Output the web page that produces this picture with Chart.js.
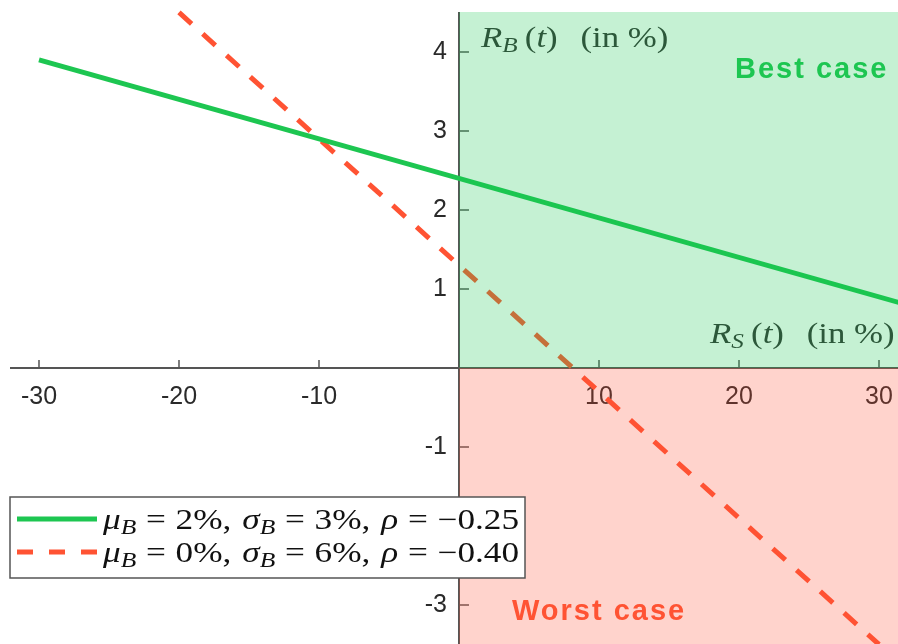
<!DOCTYPE html>
<html>
<head>
<meta charset="utf-8">
<script src="https://cdn.jsdelivr.net/npm/chart.js@4/dist/chart.umd.min.js"></script>
<style>
  html, body { margin: 0; padding: 0; background: #fff; }
  #wrap { width: 898px; height: 644px; position: relative; }
</style>
</head>
<body>
<div id="wrap"><canvas id="c"></canvas></div>
<script>
// Line endpoints: stock return R_S(t) -> bond return R_B(t), both in %
const seriesLabels = ['mu_B = 2%, sigma_B = 3%, rho = -0.25', 'mu_B = 0%, sigma_B = 6%, rho = -0.40'];
const lineAx = [-30, 32];
const lineAy = [3.90, 0.80];
const lineBx = [-20, 30];
const lineBy = [4.50, -3.50];

// Tick labels on both axes (0 is left unlabelled)
const xTickValues = [-30, -20, -10, 10, 20, 30];
const yTickValues = [-3, -2, -1, 1, 2, 3, 4];

const GREEN = '#1dc651';
const RED = '#ff5333';
const AXIS = '#555555';

function toPoints(xs, ys) { return xs.map((x, i) => ({ x: x, y: ys[i] })); }

// Draw a run of text pieces (math-like: italic symbols, subscripts),
// stretched horizontally by sx to get a wider, TeX-like set width
function drawRun(ctx, x, y, parts, color, sx) {
  ctx.save();
  ctx.translate(x, y);
  ctx.scale(sx || 1, 1);
  ctx.fillStyle = color;
  ctx.textBaseline = 'alphabetic';
  ctx.textAlign = 'left';
  let cx = 0;
  for (const p of parts) {
    if (p.gap) { cx += p.gap; continue; }
    ctx.font = (p.i ? 'italic ' : '') + p.size + 'px "Liberation Serif", "Times New Roman", serif';
    ctx.fillText(p.s, cx, p.dy || 0);
    cx += ctx.measureText(p.s).width;
  }
  ctx.restore();
  return x + cx * (sx || 1);
}

const M = 29, S = 21;
function eqParts(mu, sig, rho) {
  return [
    { s: 'μ', i: true, size: M }, { s: 'B', i: true, size: S, dy: 5 },
    { gap: 8 }, { s: '=', size: M }, { gap: 8 },
    { s: mu + '%,', size: M }, { gap: 9 },
    { s: 'σ', i: true, size: M }, { s: 'B', i: true, size: S, dy: 5 },
    { gap: 8 }, { s: '=', size: M }, { gap: 8 },
    { s: sig + '%,', size: M }, { gap: 9 },
    { s: 'ρ', i: true, size: M },
    { gap: 8 }, { s: '=', size: M }, { gap: 8 },
    { s: '−' + rho, size: M }
  ];
}
function axisTitle(sym) {
  return [
    { s: 'R', i: true, size: M }, { s: sym, i: true, size: S, dy: 5 }, { gap: 6 },
    { s: '(', size: M }, { s: 't', i: true, size: M }, { s: ')', size: M }, { gap: 19 },
    { s: '(in %)', size: M }
  ];
}

const axesPlugin = {
  id: 'centredAxes',
  beforeDatasetsDraw(chart) {
    const ctx = chart.ctx;
    const xs = chart.scales.x, ys = chart.scales.y;
    const ca = chart.chartArea;
    const ox = xs.getPixelForValue(0), oy = ys.getPixelForValue(0);
    ctx.save();
    // axis lines through the origin
    ctx.strokeStyle = AXIS;
    ctx.lineWidth = 2;
    ctx.beginPath();
    ctx.moveTo(ca.left, oy); ctx.lineTo(ca.right, oy);
    ctx.moveTo(ox, ca.top); ctx.lineTo(ox, ca.bottom);
    ctx.stroke();
    // tick marks
    ctx.lineWidth = 1.5;
    ctx.beginPath();
    for (const v of xTickValues) {
      const px = xs.getPixelForValue(v);
      ctx.moveTo(px, oy); ctx.lineTo(px, oy - 8);
    }
    for (const v of yTickValues) {
      const py = ys.getPixelForValue(v);
      ctx.moveTo(ox, py); ctx.lineTo(ox + 10, py);
    }
    ctx.stroke();
    // tick labels
    ctx.fillStyle = '#2a2a2a';
    ctx.font = '25px "Liberation Sans", Arial, sans-serif';
    ctx.textAlign = 'center';
    ctx.textBaseline = 'middle';
    for (const v of xTickValues) {
      ctx.fillText(String(v), xs.getPixelForValue(v), oy + 29);
    }
    ctx.textAlign = 'right';
    for (const v of yTickValues) {
      ctx.fillText(String(v), ox - 12, ys.getPixelForValue(v));
    }
    ctx.restore();
  },
  afterDatasetsDraw(chart) {
    const ctx = chart.ctx;
    const xs = chart.scales.x, ys = chart.scales.y;
    const ca = chart.chartArea;
    const ox = xs.getPixelForValue(0), oy = ys.getPixelForValue(0);

    // axis titles
    const labelColor = '#333333';
    drawRun(ctx, ox + 22, ca.top + 35, axisTitle('B'), labelColor, 1.2);
    drawRun(ctx, ox + 251, oy - 25, axisTitle('S'), labelColor, 1.2);

    // translucent quadrant shading on top of everything drawn so far
    ctx.save();
    ctx.fillStyle = 'rgba(25,200,80,0.25)';
    ctx.fillRect(ox, ca.top, ca.right - ox, oy - ca.top);
    ctx.fillStyle = 'rgba(255,80,50,0.25)';
    ctx.fillRect(ox, oy, ca.right - ox, ca.bottom - oy);
    ctx.restore();

    // quadrant captions
    ctx.save();
    ctx.font = 'bold 29px "Liberation Sans", Arial, sans-serif';
    try { ctx.letterSpacing = '2px'; } catch (e) {}
    ctx.textBaseline = 'alphabetic';
    ctx.textAlign = 'left';
    ctx.fillStyle = GREEN;
    ctx.fillText('Best case', 735, 78);
    ctx.fillStyle = RED;
    ctx.fillText('Worst case', 512, 620);
    ctx.restore();

    // legend box
    ctx.save();
    ctx.fillStyle = '#ffffff';
    ctx.fillRect(10, 497, 515, 81);
    ctx.strokeStyle = '#555555';
    ctx.lineWidth = 1.5;
    ctx.strokeRect(10, 497, 515, 81);
    ctx.lineWidth = 5;
    ctx.lineCap = 'butt';
    ctx.strokeStyle = GREEN;
    ctx.beginPath(); ctx.moveTo(17, 519); ctx.lineTo(97, 519); ctx.stroke();
    ctx.strokeStyle = RED;
    ctx.setLineDash([16, 16]);
    ctx.beginPath(); ctx.moveTo(17, 552); ctx.lineTo(97, 552); ctx.stroke();
    ctx.restore();
    drawRun(ctx, 103, 529, eqParts('2', '3', '0.25'), '#111111', 1.215);
    drawRun(ctx, 103, 562, eqParts('0', '6', '0.40'), '#111111', 1.215);
  }
};

new Chart(document.getElementById('c'), {
  type: 'scatter',
  data: {
    datasets: [
      {
        label: seriesLabels[0],
        data: toPoints(lineAx, lineAy),
        showLine: true,
        borderColor: GREEN,
        borderWidth: 5,
        pointRadius: 0,
        clip: { left: 0, top: 12, right: 0, bottom: 0 }
      },
      {
        label: seriesLabels[1],
        data: toPoints(lineBx, lineBy),
        showLine: true,
        borderColor: RED,
        borderWidth: 5,
        borderDash: [17, 15],
        borderCapStyle: 'butt',
        pointRadius: 0,
        clip: { left: 0, top: 12, right: 0, bottom: 0 }
      }
    ]
  },
  options: {
    responsive: true,
    maintainAspectRatio: false,
    animation: false,
    layout: { padding: { left: 10, top: 12, right: 0, bottom: 0 } },
    plugins: { legend: { display: false }, tooltip: { enabled: false } },
    scales: {
      x: { type: 'linear', min: -32.071, max: 31.357, display: false },
      y: { type: 'linear', min: -3.494, max: 4.506, display: false }
    }
  },
  plugins: [axesPlugin]
});
</script>
</body>
</html>
